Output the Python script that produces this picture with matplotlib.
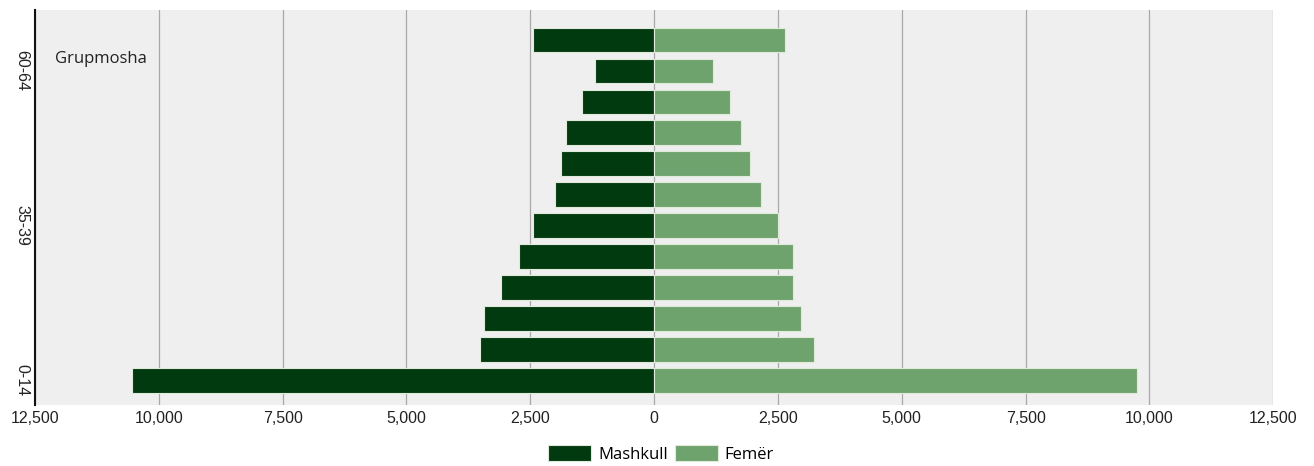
import matplotlib
matplotlib.use("Agg")
import matplotlib.pyplot as plt
import numpy as np
from matplotlib.ticker import FuncFormatter

# age groups, bottom to top
age_groups = ['0-14', '15-19', '20-24', '25-29', '30-34', '35-39',
              '40-44', '45-49', '50-54', '55-59', '60-64', '65+']
male = [10545, 3510, 3430, 3085, 2720, 2440, 2000, 1875, 1775, 1450, 1190, 2440]
female = [9750, 3220, 2960, 2810, 2810, 2510, 2160, 1930, 1755, 1540, 1185, 2640]
shown_labels = ['0-14', '35-39', '60-64']
x_ticks = [-12500, -10000, -7500, -5000, -2500, 0, 2500, 5000, 7500, 10000, 12500]

male_color = '#023a10'
female_color = '#6fa36d'
tick_font = ['Liberation Sans Narrow', 'Liberation Sans', 'DejaVu Sans']

fig = plt.figure(figsize=(13.14, 4.66), dpi=100)
ax = fig.add_axes([0.0266, 0.131, 0.9424, 0.8475])
ax.set_facecolor('#efefef')

y = np.arange(len(age_groups))
ax.barh(y, [-v for v in male], height=0.8, color=male_color,
        edgecolor='#dfeadb', linewidth=0.8, label='Mashkull', zorder=3)
ax.barh(y, female, height=0.8, color=female_color,
        edgecolor='#dfeadb', linewidth=0.8, label='Femër', zorder=3)

ax.set_xlim(-12500, 12500)
ax.set_ylim(-0.8, 11.97)
ax.set_xticks(x_ticks)
ax.xaxis.set_major_formatter(FuncFormatter(lambda v, p: f"{abs(int(v)):,}"))
for lbl in ax.get_xticklabels():
    lbl.set_family(tick_font)
    lbl.set_fontsize(11.5)
    lbl.set_color('#222222')

ax.set_yticks([age_groups.index(a) for a in shown_labels])
ax.set_yticklabels(shown_labels, rotation=-90, va='center',
                   family=tick_font, fontsize=11.5, color='#222222')

ax.grid(axis='x', color='#a8a8a8', linewidth=0.9, zorder=1)
ax.tick_params(length=0, pad=4)
for s in ['top', 'right', 'bottom']:
    ax.spines[s].set_visible(False)
ax.spines['left'].set_color('#111111')
ax.spines['left'].set_linewidth(1.5)

ax.text(0.0165, 0.877, 'Grupmosha', transform=ax.transAxes, fontsize=12,
        family=['Open Sans', 'DejaVu Sans'], color='#222222', va='center')

fig.legend(loc='lower center', bbox_to_anchor=(0.503, -0.025), ncol=2,
           frameon=False, handlelength=2.6, handleheight=1.1,
           columnspacing=0.4, handletextpad=0.4,
           prop={'family': ['Open Sans', 'DejaVu Sans'], 'size': 12})

fig.savefig("out.png", dpi=100)
